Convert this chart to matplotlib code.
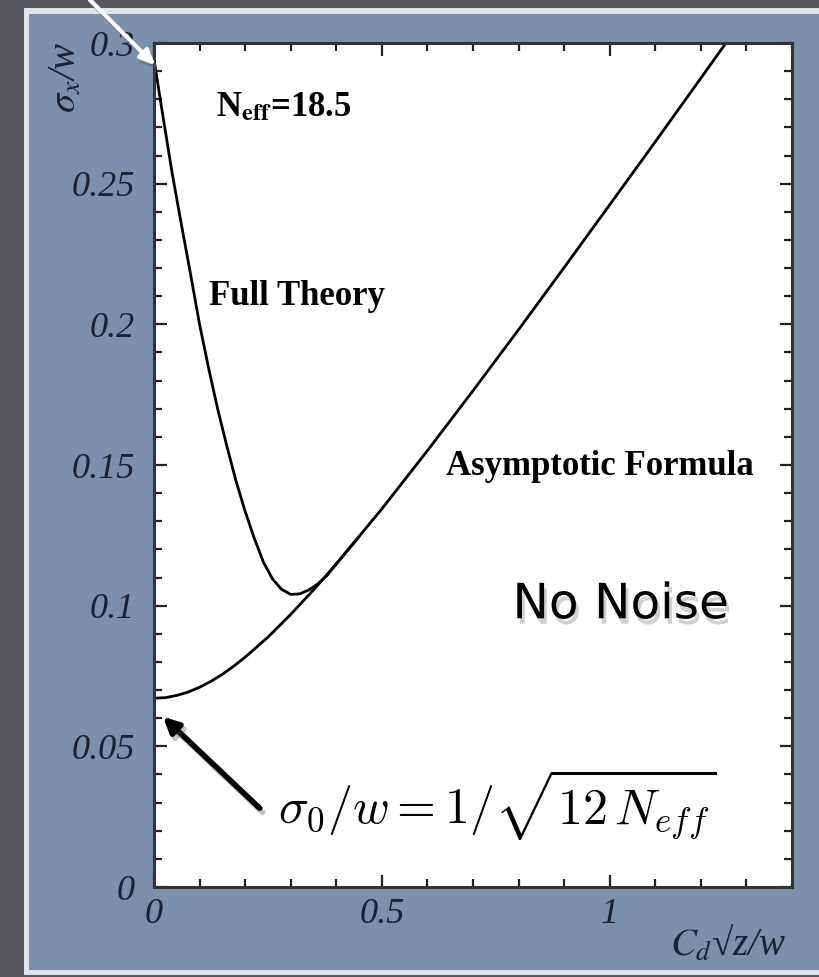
import matplotlib
matplotlib.use("Agg")
import matplotlib.pyplot as plt
import matplotlib.patheffects as pe
from matplotlib.patches import Rectangle
from matplotlib.ticker import MultipleLocator

# courbe "Asymptotic Formula"
x_asym = [0, 0.025, 0.05, 0.075, 0.1, 0.125, 0.15, 0.175, 0.2, 0.25, 0.3, 0.35, 0.4, 0.5, 0.6,
          0.7, 0.8, 0.9, 1.0, 1.1, 1.2, 1.3]
y_asym = [0.0671, 0.0673, 0.0681, 0.0693, 0.0710, 0.0731, 0.0756, 0.0785, 0.0817, 0.0888,
          0.0969, 0.1056, 0.1148, 0.1344, 0.1551, 0.1764, 0.1981, 0.2202, 0.2425, 0.2649,
          0.2875, 0.3102]

# courbe "Full Theory"
x_full = [0, 0.02, 0.04, 0.06, 0.08, 0.10, 0.12, 0.14, 0.16, 0.18, 0.20, 0.22, 0.24, 0.26,
          0.28, 0.30, 0.32, 0.34, 0.36, 0.38, 0.40, 0.45]
y_full = [0.294, 0.2736, 0.2536, 0.2356, 0.2180, 0.2000, 0.1843, 0.1697, 0.1566, 0.1443,
          0.1335, 0.1240, 0.1155, 0.1095, 0.1058, 0.1040, 0.1042, 0.1056, 0.1078, 0.1108,
          0.1149, 0.1245]

x_ticks = [0, 0.5, 1]
x_labels = ["0", "0.5", "1"]
y_ticks = [0, 0.05, 0.1, 0.15, 0.2, 0.25, 0.3]
y_labels = ["0", "0.05", "0.1", "0.15", "0.2", "0.25", "0.3"]

plt.rcParams['mathtext.fontset'] = 'stix'
serif = 'Liberation Serif'

W, H = 820, 977
fig = plt.figure(figsize=(W / 100, H / 100), dpi=100, facecolor='#56565d')
# cadre clair + panneau bleu-gris
fig.patches.append(Rectangle((24 / W, 2 / H), (W - 24) / W, (H - 10) / H,
                             transform=fig.transFigure, facecolor='#dfe3ea', edgecolor='none', zorder=-2))
fig.patches.append(Rectangle((29 / W, 7 / H), (W - 29) / W, (H - 21) / H,
                             transform=fig.transFigure, facecolor='#7c8fad', edgecolor='none', zorder=-1))

ax = fig.add_axes([154 / W, 1 - 887 / H, (792 - 154) / W, (887 - 43) / H])
ax.set_facecolor('white')

ax.plot(x_asym, y_asym, color='black', lw=2, solid_capstyle='round')
ax.plot(x_full, y_full, color='black', lw=2, solid_capstyle='round')

ax.set_xlim(0, 1.4)
ax.set_ylim(0, 0.3)
ax.set_xticks(x_ticks)
ax.set_xticklabels(x_labels)
ax.set_yticks(y_ticks)
ax.set_yticklabels(y_labels)
ax.xaxis.set_minor_locator(MultipleLocator(0.1))
ax.yaxis.set_minor_locator(MultipleLocator(0.01))
ax.tick_params(which='both', direction='in', top=True, right=True, width=1.6, color='#222222')
ax.tick_params(which='major', length=9)
ax.tick_params(which='minor', length=6)
ax.tick_params(axis='y', pad=14, labelsize=26, labelcolor='#1c2233')
ax.tick_params(axis='x', pad=8, labelsize=26, labelcolor='#1c2233')
for lbl in ax.get_xticklabels() + ax.get_yticklabels():
    lbl.set_fontfamily(serif)
    lbl.set_fontstyle('italic')
for s in ax.spines.values():
    s.set_linewidth(2.2)
    s.set_color('#333333')

# titres des axes
fig.text(66 / W, 1 - 77 / H, r"$\sigma_x$/w", rotation=90, ha='center', va='center',
         fontsize=28, family=serif, style='italic', color='#1c2233')
fig.text(728 / W, 1 - 945 / H, r"$C_d$√z/w", ha='center', va='center',
         fontsize=28, family=serif, style='italic', color='#1c2233')

# annotations
ax.text(0.135, 0.277, r"N$_{\mathbf{eff}}$=18.5", fontsize=25, family=serif, weight='bold',
        va='center', ha='left')
ax.text(0.12, 0.21, "Full Theory", fontsize=25, family=serif, weight='bold', va='center', ha='left')
ax.text(0.64, 0.1495, "Asymptotic Formula", fontsize=25, family=serif, weight='bold',
        va='center', ha='left')
ax.text(1.024, 0.1005, "No Noise", fontsize=35, family='DejaVu Sans', va='center', ha='center',
        path_effects=[pe.SimplePatchShadow(offset=(2, -4), shadow_rgbFace='#666666', alpha=0.3),
                      pe.Normal()])
ax.text(0.272, 0.0225, r"$\sigma_0/w = 1/\sqrt{12\,N_{eff}}$", fontsize=36, va='baseline',
        ha='left', math_fontfamily='cm')

shadow = [pe.SimpleLineShadow(offset=(2, -3), shadow_color='#555555', alpha=0.35), pe.Normal()]
ax.annotate("", xy=(0.02, 0.0605), xytext=(0.232, 0.028),
            arrowprops=dict(arrowstyle='-|>,head_length=0.9,head_width=0.45', lw=4, color='black',
                            shrinkA=0, shrinkB=0, path_effects=shadow))
ax.annotate("", xy=(0.003, 0.292), xytext=(90 / W, 1.0), textcoords='figure fraction',
            annotation_clip=False,
            arrowprops=dict(arrowstyle='-|>,head_length=0.9,head_width=0.4', lw=3, color='white',
                            shrinkA=0, shrinkB=0, path_effects=shadow))

fig.savefig("out.png", dpi=100, facecolor=fig.get_facecolor())
